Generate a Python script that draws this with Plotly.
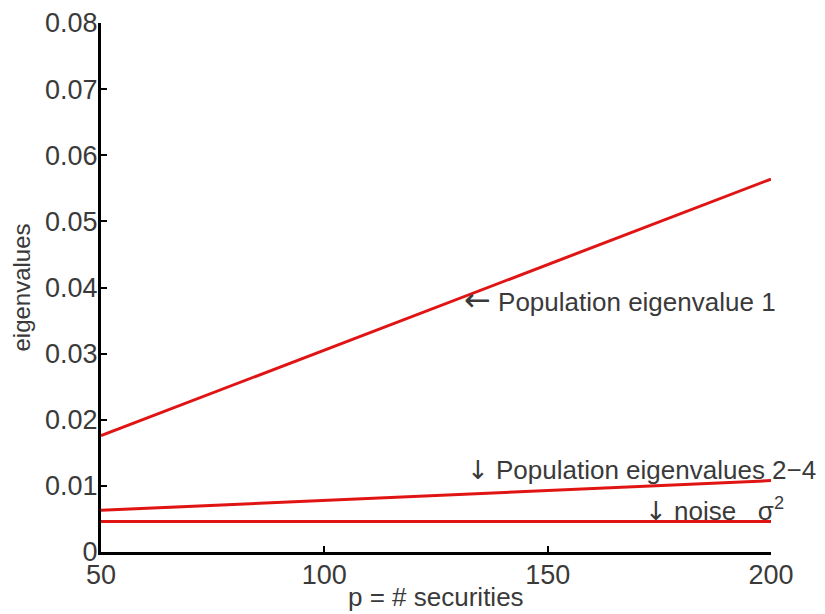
import plotly.graph_objects as go

p_values = [50, 200]
eig1 = [0.0176, 0.0564]
eig2_4 = [0.0063, 0.0108]
noise = [0.0046, 0.0046]

x_ticks = [50, 100, 150, 200]
y_ticks = [0, 0.01, 0.02, 0.03, 0.04, 0.05, 0.06, 0.07, 0.08]

RED = "rgb(225,20,20)"
TXT = "#3a3a3a"
FONT = "Liberation Sans, Arial, sans-serif"
ARW = '<span style="font-family:DejaVu Sans;font-size:%dpx">%s</span> '

fig = go.Figure()
for ys in (eig1, eig2_4, noise):
    fig.add_trace(go.Scatter(x=p_values, y=ys, mode="lines",
                             line=dict(color=RED, width=3), showlegend=False,
                             hoverinfo="skip"))

ann = [
    (130.8, 0.0381, ARW % (32, "\u2190") + "Population eigenvalue 1"),
    (131.6, 0.0124, ARW % (26, "\u2193") + "Population eigenvalues 2\u22124"),
    (171.3, 0.0064, ARW % (26, "\u2193") + "noise   \u03c3<sup>2</sup>"),
]
for x, y, t in ann:
    fig.add_annotation(x=x, y=y, xref="x", yref="y", text=t, showarrow=False,
                       xanchor="left", yanchor="middle",
                       font=dict(family=FONT, size=26, color=TXT))

# x-axis title as a paper annotation so it stays inside the page
fig.add_annotation(x=0.5, y=-0.085, xref="paper", yref="paper",
                   text="p = # securities", showarrow=False,
                   xanchor="center", yanchor="middle",
                   font=dict(family=FONT, size=26, color=TXT))

axis_common = dict(showline=True, linecolor="black", linewidth=3,
                   ticks="inside", ticklen=6, tickwidth=2, tickcolor="black",
                   showgrid=False, zeroline=False, automargin=False,
                   tickfont=dict(family=FONT, size=27, color=TXT))

fig.update_xaxes(range=[50, 200], tickvals=x_ticks,
                 ticktext=[str(v) for v in x_ticks],
                 ticklabelstandoff=-3,
                 **axis_common)
fig.update_yaxes(range=[0, 0.08], tickvals=y_ticks,
                 ticktext=["0"] + ["%.2f" % v for v in y_ticks[1:]],
                 ticklabelstandoff=-5,
                 title=dict(text="eigenvalues", standoff=10,
                            font=dict(family=FONT, size=24, color=TXT)),
                 **axis_common)

fig.update_layout(width=825, height=614,
                  margin=dict(l=93, r=62, t=15, b=70),
                  plot_bgcolor="white", paper_bgcolor="white")

fig.write_html("out.html")
